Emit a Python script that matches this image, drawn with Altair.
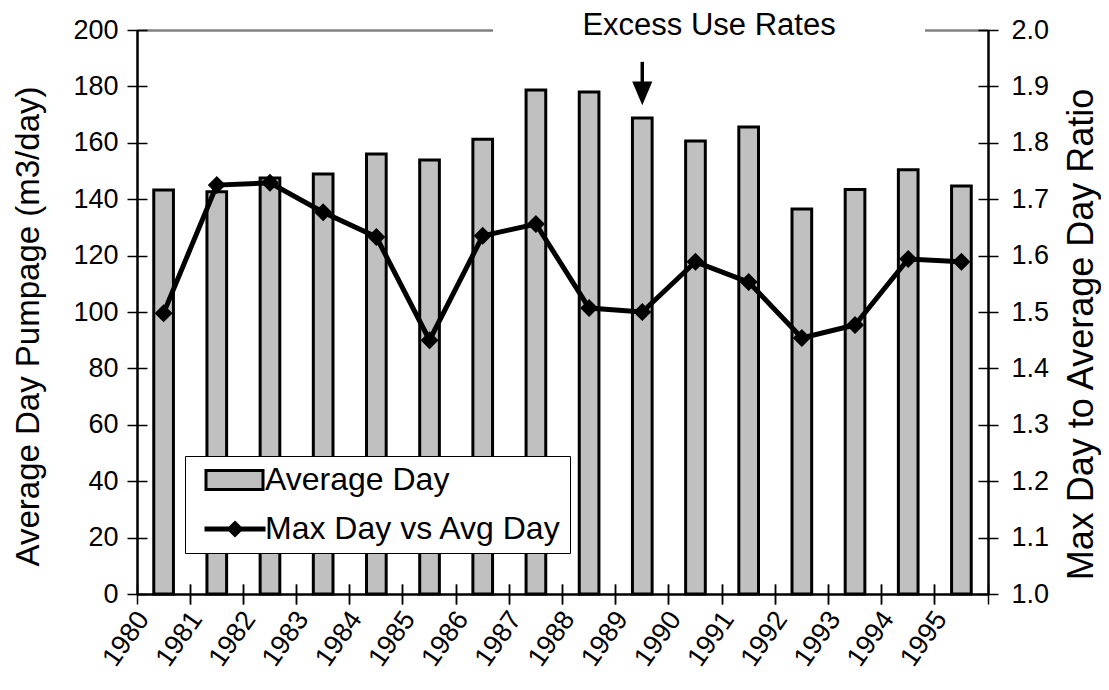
import altair as alt
import pandas as pd

# ---------------- data ----------------
years = [str(y) for y in range(1980, 1996)]
avg_day = [143.3, 142.6, 147.5, 148.9, 156.0, 153.9, 161.3, 178.7,
           178.0, 168.8, 160.6, 165.6, 136.5, 143.4, 150.4, 144.7]
max_ratio = [1.498, 1.725, 1.729, 1.677, 1.633, 1.450, 1.635, 1.656,
             1.507, 1.500, 1.589, 1.553, 1.454, 1.477, 1.594, 1.589]
series_names = ["Average Day", "Max Day vs Avg Day"]
left_ticks = [0, 20, 40, 60, 80, 100, 120, 140, 160, 180, 200]
right_ticks = [1.0, 1.1, 1.2, 1.3, 1.4, 1.5, 1.6, 1.7, 1.8, 1.9, 2.0]
annot_text = ["Excess Use Rates"]
annot_year = ["1989"]
annot_top = [188.7]
annot_head = [177.5]

# ---------------- layout / style ----------------
W, H = 851, 564
FONT = "Liberation Sans"
GRAY = "#C0C0C0"

bar_df = pd.DataFrame({"year": years, "avg": avg_day})
ratio_df = pd.DataFrame({"year": years, "ratio": max_ratio})
legend_df = pd.DataFrame({"series": series_names})
arrow_df = pd.DataFrame({"year": annot_year, "top": annot_top, "head": annot_head})
text_df = pd.DataFrame({"t": annot_text})

xscale = alt.Scale(paddingInner=0, paddingOuter=0)
yscale_left = alt.Scale(domain=[0, 200], nice=False)
yscale_right = alt.Scale(domain=[1, 2], nice=False, zero=False)


def aux_axis(orient, band=None, values=None):
    kw = dict(orient=orient, offset=-10, tickSize=20, ticks=True, tickColor="black",
              tickWidth=1.5, labels=False, domain=False, title=None, grid=False, zindex=1)
    if band is not None:
        kw["bandPosition"] = band
    if values is not None:
        kw["values"] = values
    return alt.Axis(**kw)


bars = alt.Chart(bar_df).mark_bar(
    width=alt.RelativeBandSize(0.37), fill=GRAY, stroke="black", strokeWidth=3, strokeOpacity=1
).encode(
    x=alt.X("year:O", scale=xscale, axis=alt.Axis(
        title=None, labelAngle=305, labelAlign="right", labelBaseline="middle",
        labelPadding=20, labelOffset=-20, labelFontSize=27, labelColor="black",
        ticks=False, tickSize=0, domainColor="black", domainWidth=2.5, grid=False, zindex=1)),
    y=alt.Y("avg:Q", scale=yscale_left, axis=alt.Axis(
        orient="left", values=left_ticks, title="Average Day Pumpage (m3/day)",
        titleFontSize=33, titleFontWeight="normal", titleColor="black",
        titleX=-109, titleY=296, titleAngle=270, titleAlign="center", titleBaseline="middle",
        labelFontSize=27, labelPadding=19, labelColor="black", ticks=False, tickSize=0,
        domainColor="black", domainWidth=2.5, grid=False, zindex=1)),
)

line = alt.Chart(ratio_df).mark_line(color="black", strokeWidth=5).encode(
    x=alt.X("year:O", axis=None),
    y=alt.Y("ratio:Q", scale=yscale_right, axis=alt.Axis(
        orient="right", values=right_ticks, format=".1f", title="Max Day to Average Day Ratio",
        titleFontSize=36, titleFontWeight="normal", titleColor="black",
        titleX=93, titleY=304, titleAngle=270, titleAlign="center", titleBaseline="middle",
        labelFontSize=27, labelPadding=23, labelColor="black", ticks=False, tickSize=0,
        domainColor="black", domainWidth=2.5, grid=False, zindex=1)),
)

points = alt.Chart(ratio_df).mark_point(shape="diamond", filled=True, size=324, color="black",
                                        opacity=1).encode(
    x=alt.X("year:O", axis=None),
    y=alt.Y("ratio:Q", scale=yscale_right, axis=None),
)

aux_left = alt.Chart(bar_df).mark_point(opacity=0).encode(
    x=alt.X("year:O", axis=aux_axis("bottom", band=0)),
    y=alt.Y("avg:Q", scale=yscale_left, axis=aux_axis("left", values=left_ticks)),
)

aux_right = alt.Chart(ratio_df).mark_point(opacity=0).encode(
    x=alt.X("year:O", axis=aux_axis("bottom", band=1)),
    y=alt.Y("ratio:Q", scale=yscale_right, axis=aux_axis("right", values=right_ticks)),
)

rect_path = "M-0.3,-0.95H5.4V0.95H-0.3Z"
line_path = "M-0.3,-0.1H5.5V0.1H-0.3Z M2.6,-0.65L3.25,0L2.6,0.65L1.95,0Z"
leg = alt.Legend(title=None, orient="none", legendX=48, legendY=426, padding=8,
                 fillColor="white", strokeColor="black", labelFontSize=32, labelColor="black",
                 labelLimit=0, symbolSize=400, symbolStrokeColor="black", symbolStrokeWidth=3,
                 symbolOpacity=1, labelOffset=40, rowPadding=17)
legend_layer = alt.Chart(legend_df).mark_point(filled=True, opacity=0, strokeWidth=3).encode(
    color=alt.Color("series:N", scale=alt.Scale(domain=series_names, range=[GRAY, "#000000"]),
                    legend=leg),
    shape=alt.Shape("series:N", scale=alt.Scale(domain=series_names, range=[rect_path, line_path]),
                    legend=leg),
    stroke=alt.Stroke("series:N", scale=alt.Scale(domain=series_names, range=["#000000", "#000000"]),
                      legend=leg),
)

arrow_shaft = alt.Chart(arrow_df).mark_rule(color="black", strokeWidth=3.5).encode(
    x=alt.X("year:O", axis=alt.Axis(orient="top", labels=False, ticks=False, title=None,
                                    domainColor="#808080", domainWidth=2.5, grid=False, zindex=0)),
    y=alt.Y("top:Q", scale=yscale_left, axis=None),
    y2="head:Q",
)
arrow_head = alt.Chart(arrow_df).mark_point(
    shape="M-0.85,-1L0.85,-1L0,1Z", size=560, filled=True, color="black", opacity=1
).encode(
    x=alt.X("year:O", axis=None),
    y=alt.Y("head:Q", scale=yscale_left, axis=None),
)

gap = alt.Chart(text_df).mark_rect(color="white").encode(
    x=alt.value(356), x2=alt.value(788), y=alt.value(-5), y2=alt.value(5)
)
title_txt = alt.Chart(text_df).mark_text(
    fontSize=31, align="center", baseline="alphabetic", color="black"
).encode(x=alt.value(572), y=alt.value(5), text="t:N")

chart = alt.layer(
    bars, line, points, aux_left, aux_right, legend_layer,
    arrow_shaft, arrow_head, gap, title_txt
).resolve_scale(y="independent").resolve_axis(x="independent", y="independent").properties(
    width=W, height=H,
    padding={"left": 129, "top": 22, "right": 113, "bottom": 88},
    autosize=alt.AutoSizeParams(type="none"),
).configure(font=FONT).configure_view(stroke=None)

chart.save("out.html", embed_options={"renderer": "svg", "actions": False})
